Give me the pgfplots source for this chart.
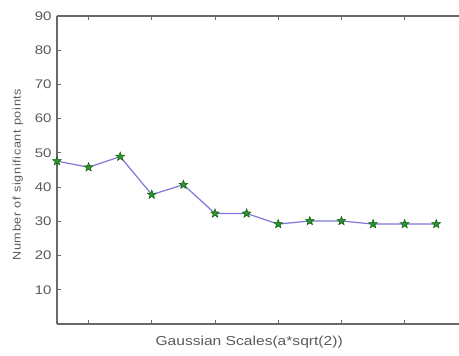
\documentclass[border=0pt]{standalone}
\usepackage{pgfplots}
\pgfplotsset{compat=1.18}
\usepackage{fontspec}
\setmainfont{Liberation Sans}
\newfontfamily\tickfont[FakeStretch=1.2]{Liberation Sans}
\newfontfamily\xlabfont[FakeStretch=1.2]{Liberation Sans}
\newfontfamily\ylabfont[FakeStretch=1.15,LetterSpace=6]{Liberation Sans}
\definecolor{lineblue}{RGB}{125,120,215}
\definecolor{mkgreen}{RGB}{40,150,40}
\definecolor{mkdark}{RGB}{20,90,20}
\definecolor{axgray}{RGB}{105,105,105}
\definecolor{txtgray}{RGB}{90,90,90}
\pgfdeclareplotmark{fstar}{%
  \pgfpathmoveto{\pgfqpointpolar{90}{\pgfplotmarksize}}%
  \pgfpathlineto{\pgfqpointpolar{126}{0.42\pgfplotmarksize}}%
  \pgfpathlineto{\pgfqpointpolar{162}{\pgfplotmarksize}}%
  \pgfpathlineto{\pgfqpointpolar{198}{0.42\pgfplotmarksize}}%
  \pgfpathlineto{\pgfqpointpolar{234}{\pgfplotmarksize}}%
  \pgfpathlineto{\pgfqpointpolar{270}{0.42\pgfplotmarksize}}%
  \pgfpathlineto{\pgfqpointpolar{306}{\pgfplotmarksize}}%
  \pgfpathlineto{\pgfqpointpolar{342}{0.42\pgfplotmarksize}}%
  \pgfpathlineto{\pgfqpointpolar{18}{\pgfplotmarksize}}%
  \pgfpathlineto{\pgfqpointpolar{54}{0.42\pgfplotmarksize}}%
  \pgfpathclose
  \pgfusepathqfillstroke}
\begin{document}
\begin{tikzpicture}
\useasboundingbox (-57pt,-32pt) rectangle (402pt,324pt);
\begin{axis}[
  at={(0,0)}, anchor=south west,
  scale only axis, width=402pt, height=308pt,
  xmin=0, xmax=12.72, ymin=0, ymax=90,
  axis x line=box, axis y line=left,
  axis line style={-, draw=axgray, line width=1.1pt},
  xtick={1,3,5,7,9,11}, xticklabels={},
  ytick={10,20,...,90},
  tick align=inside, major tick length=4pt,
  tick style={draw=axgray, line width=0.9pt},
  ytick pos=left,
  yticklabel style={text=txtgray, font=\tickfont\fontsize{12.5}{13}\selectfont, xshift=-2pt},
  /pgf/number format/assume math mode=true,
  xlabel={Gaussian Scales(a*sqrt(2))},
  ylabel={Number of significant points},
  xlabel style={text=txtgray, font=\xlabfont\fontsize{13}{14}\selectfont, at={(ticklabel cs:0.478)}, anchor=center, yshift=-11pt},
  ylabel style={text=txtgray, font=\ylabfont\fontsize{11}{12}\selectfont, at={(ticklabel cs:0.485)}, yshift=5pt},
  clip=false,
]
\addplot[color=lineblue, line width=1.2pt, mark=fstar, mark size=4.6pt,
  mark options={fill=mkgreen, draw=mkdark, line width=0.5pt}]
  coordinates {
  (0,47.6) (1,45.8) (2,48.9) (3,37.8) (4,40.7) (5,32.3) (6,32.3)
  (7,29.2) (8,30.1) (9,30.1) (10,29.2) (11,29.2) (12,29.2)
  };
\end{axis}
\end{tikzpicture}
\end{document}
